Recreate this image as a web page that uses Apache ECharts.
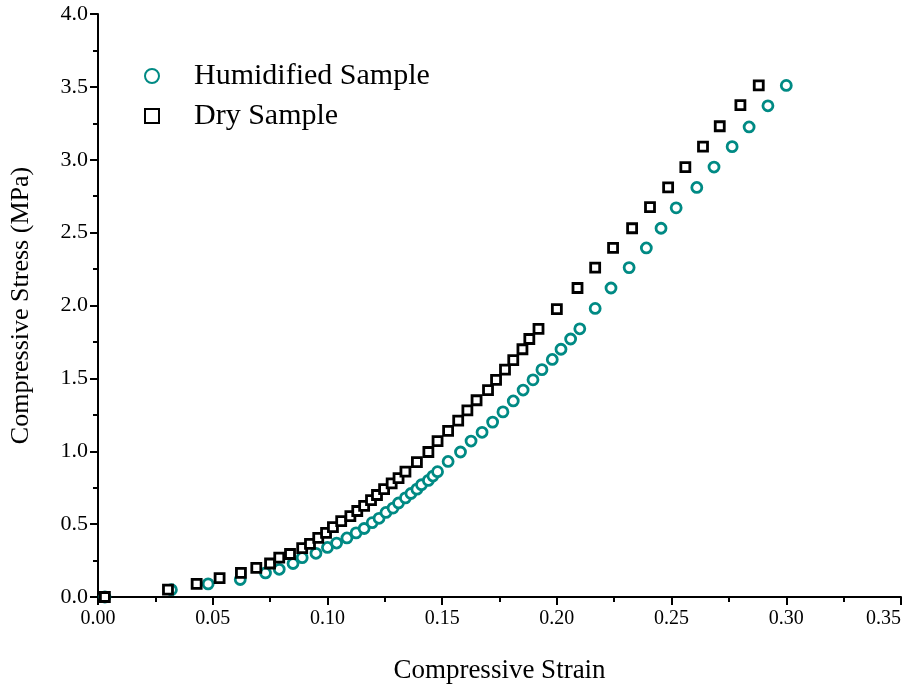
<!DOCTYPE html>
<html>
<head>
<meta charset="utf-8">
<script src="https://cdn.jsdelivr.net/npm/echarts@6/dist/echarts.min.js"></script>
<style>html,body{margin:0;padding:0;background:#fff}#c{width:915px;height:690px}</style>
</head>
<body>
<div id="c"></div>
<script>
const xTicks = [0, 0.05, 0.10, 0.15, 0.20, 0.25, 0.30, 0.35];
const yTicks = [0, 0.5, 1.0, 1.5, 2.0, 2.5, 3.0, 3.5, 4.0];

const humidStrain = [0.003,0.032,0.048,0.062,0.073,0.079,0.085,0.089,0.095,0.100,0.104,0.1085,0.1125,0.116,0.1195,0.1225,0.1255,0.1286,0.131,0.134,0.1364,0.139,0.141,0.144,0.146,0.148,0.1526,0.158,0.1626,0.1674,0.172,0.1765,0.181,0.1853,0.1896,0.1935,0.198,0.2018,0.206,0.210,0.2167,0.2236,0.2315,0.239,0.2454,0.252,0.261,0.2685,0.2764,0.2838,0.292,0.300];
const humidStress = [0.00,0.05,0.09,0.12,0.165,0.19,0.23,0.27,0.30,0.34,0.37,0.405,0.44,0.47,0.51,0.54,0.58,0.61,0.645,0.68,0.71,0.74,0.77,0.80,0.83,0.86,0.93,0.995,1.07,1.13,1.20,1.27,1.345,1.42,1.49,1.56,1.63,1.70,1.77,1.84,1.98,2.12,2.26,2.395,2.53,2.67,2.81,2.95,3.09,3.225,3.37,3.51];

const dryStrain = [0.003,0.0305,0.043,0.053,0.0623,0.069,0.075,0.079,0.0837,0.089,0.0924,0.096,0.0994,0.1024,0.106,0.110,0.113,0.116,0.119,0.1216,0.1247,0.128,0.131,0.134,0.139,0.144,0.148,0.1526,0.157,0.161,0.165,0.170,0.1735,0.1774,0.181,0.185,0.188,0.192,0.200,0.209,0.2167,0.2245,0.2328,0.2406,0.2485,0.256,0.2637,0.271,0.280,0.288];
const dryStress = [0.00,0.05,0.09,0.13,0.165,0.20,0.23,0.27,0.295,0.335,0.365,0.405,0.44,0.48,0.52,0.555,0.59,0.625,0.665,0.70,0.74,0.78,0.815,0.86,0.925,0.995,1.07,1.14,1.21,1.28,1.35,1.42,1.49,1.56,1.625,1.70,1.77,1.84,1.975,2.12,2.26,2.395,2.53,2.675,2.81,2.95,3.09,3.23,3.375,3.51];

const seriesNames = ['Humidified Sample', 'Dry Sample'];
const xTitle = 'Compressive Strain';
const yTitle = 'Compressive Stress (MPa)';

const zip = (a, b) => a.map((v, i) => [v, b[i]]);
const FONT = '"Liberation Serif", "DejaVu Serif", serif';
const TEAL = '#008a84';

const chart = echarts.init(document.getElementById('c'), null, {renderer: 'canvas'});
chart.setOption({
  animation: false,
  backgroundColor: '#fff',
  grid: {left: 98, right: 14, top: 14, bottom: 93, containLabel: false, outerBoundsMode: 'none'},
  legend: {
    orient: 'vertical',
    left: 139, top: 56,
    itemWidth: 14, itemHeight: 14, itemGap: 10,
    data: seriesNames,
    textStyle: {fontFamily: FONT, fontSize: 30, color: '#000', padding: [0, 0, 0, 30]}
  },
  xAxis: {
    type: 'value', min: 0, max: 0.35, interval: 0.05,
    name: xTitle, nameLocation: 'middle', nameGap: 60,
    nameTextStyle: {fontFamily: FONT, fontSize: 27, color: '#000'},
    axisLine: {show: true, onZero: false, lineStyle: {color: '#000', width: 2}},
    axisTick: {show: true, inside: false, length: 8, lineStyle: {color: '#000', width: 2}},
    minorTick: {show: true, splitNumber: 2, length: 5, lineStyle: {color: '#000', width: 2}},
    splitLine: {show: false},
    axisLabel: {fontFamily: FONT, fontSize: 20, color: '#000', margin: 12,
      alignMaxLabel: 'right',
      formatter: v => v.toFixed(2)}
  },
  yAxis: {
    type: 'value', min: 0, max: 4, interval: 0.5,
    name: yTitle, nameLocation: 'middle', nameGap: 64, nameRotate: 90,
    nameTextStyle: {fontFamily: FONT, fontSize: 26, color: '#000'},
    axisLine: {show: true, onZero: false, lineStyle: {color: '#000', width: 2}},
    axisTick: {show: true, inside: false, length: 8, lineStyle: {color: '#000', width: 2}},
    minorTick: {show: true, splitNumber: 2, length: 5, lineStyle: {color: '#000', width: 2}},
    splitLine: {show: false},
    axisLabel: {fontFamily: FONT, fontSize: 22, color: '#000', margin: 10,
      formatter: v => v.toFixed(1)}
  },
  series: [
    {
      name: seriesNames[0], type: 'scatter', symbol: 'circle', symbolSize: 10,
      itemStyle: {color: '#fff', borderColor: TEAL, borderWidth: 2.8, opacity: 1},
      data: zip(humidStrain, humidStress), z: 2
    },
    {
      name: seriesNames[1], type: 'scatter', symbol: 'rect', symbolSize: 9,
      itemStyle: {color: '#fff', borderColor: '#000', borderWidth: 2.8, opacity: 1},
      data: zip(dryStrain, dryStress), z: 3
    }
  ]
});
</script>
</body>
</html>
